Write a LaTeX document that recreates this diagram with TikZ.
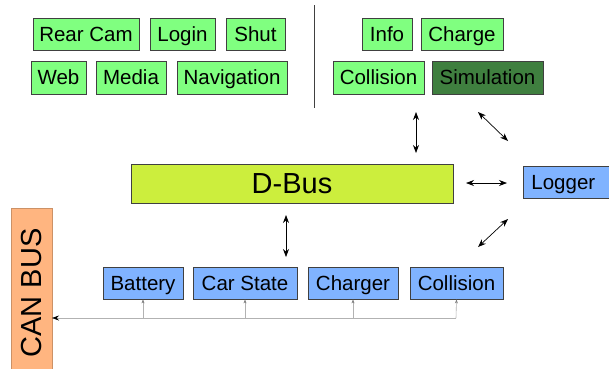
\documentclass[tikz,border=0pt]{standalone}
\usepackage{fontspec}
\setmainfont{Liberation Sans}
\usetikzlibrary{arrows.meta}
\definecolor{appgreen}{HTML}{80FF80}
\definecolor{simgreen}{HTML}{3F7F3F}
\definecolor{dbuscol}{HTML}{CCEE3D}
\definecolor{svcblue}{HTML}{80B3FF}
\definecolor{canorange}{HTML}{FFB580}
\definecolor{edgegray}{HTML}{404040}
\begin{document}
\begin{tikzpicture}[x=1pt,y=-1pt,
  box/.style={draw=edgegray,line width=0.8pt,inner sep=0pt,text height=14.8pt,text depth=0pt,
              font=\fontsize{20.5}{20.5}\selectfont},
  bigtext/.style={text height=20.8pt,text depth=0pt,font=\fontsize{29}{29}\selectfont},
  app/.style={box,fill=appgreen},
  sim/.style={box,fill=simgreen},
  svc/.style={box,fill=svcblue},
  link/.style={line width=0.7pt,{Stealth[length=8pt,width=6pt]}-{Stealth[length=8pt,width=6pt]}},
  canlink/.style={draw=gray!60,line width=0.6pt},
  cantip/.style={canlink,-{Stealth[length=4pt,width=3pt,gray]}}
]
\useasboundingbox (0,0) rectangle (609,368);

% application layer
\node[app,minimum width=106pt,minimum height=32pt] (rearcam) at (86,34) {Rear Cam};
\node[app,minimum width=65pt,minimum height=32pt] (login) at (182.5,34) {Login};
\node[app,minimum width=59pt,minimum height=32pt] (shut) at (255.5,34) {Shut};
\node[app,minimum width=55pt,minimum height=33pt] (web) at (58.5,77.5) {Web};
\node[app,minimum width=70pt,minimum height=33pt] (media) at (131,77.5) {Media};
\node[app,minimum width=110pt,minimum height=33pt] (nav) at (232,77.5) {Navigation};

% separator
\draw[edgegray,line width=0.8pt] (314,5) coordinate (sepA) -- (314,108) coordinate (sepB);

\node[app,minimum width=50pt,minimum height=32pt] (info) at (387,34) {Info};
\node[app,minimum width=82pt,minimum height=32pt] (charge) at (462,34) {Charge};
\node[app,minimum width=91pt,minimum height=33pt] (collapp) at (378.5,77.5) {Collision};
\node[sim,minimum width=111pt,minimum height=33pt] (simu) at (487.5,77.5) {Simulation};

% middleware
\node[box,bigtext,fill=dbuscol,minimum width=322pt,minimum height=39pt] (dbus) at (292,183.5) {D-Bus};
\node[svc,minimum width=90pt,minimum height=32pt,anchor=west,text width=74pt,align=left] (logger) at (523,182) {Logger};

% services
\node[svc,minimum width=80pt,minimum height=32pt] (battery) at (143,283) {Battery};
\node[svc,minimum width=104pt,minimum height=32pt] (carstate) at (245,283) {Car State};
\node[svc,minimum width=90pt,minimum height=32pt] (charger) at (353,283) {Charger};
\node[svc,minimum width=93pt,minimum height=32pt] (collsvc) at (456.5,283) {Collision};

% CAN bus
\node[draw=canorange!80!black,line width=0.5pt,fill=canorange,inner sep=0pt,
      minimum width=170pt,minimum height=41pt,rotate=90,bigtext] (can) at (31.5,293) {CAN BUS};

% bidirectional links
\coordinate (a1) at (416,112); \coordinate (a2) at (416,153);
\draw[link] (a1) -- (a2);
\coordinate (b1) at (478,112); \coordinate (b2) at (508,141);
\draw[link] (b1) -- (b2);
\coordinate (c1) at (466,183); \coordinate (c2) at (507,183);
\draw[link] (c1) -- (c2);
\coordinate (d1) at (478,247); \coordinate (d2) at (508,219);
\draw[link] (d1) -- (d2);
\coordinate (e1) at (286,215); \coordinate (e2) at (286,257);
\draw[link] (e1) -- (e2);

% CAN bus wiring
\coordinate (busend) at (456,318);
\coordinate (canin) at (52,318);
\draw[canlink,-{Stealth[length=7pt,width=5pt,black]}] (busend) -- (canin);
\draw[cantip] (busend) -- (collsvc.south);
\draw[cantip] (battery.south |- busend) -- (battery.south);
\draw[cantip] (carstate.south |- busend) -- (carstate.south);
\draw[cantip] (charger.south |- busend) -- (charger.south);
\end{tikzpicture}
\end{document}
